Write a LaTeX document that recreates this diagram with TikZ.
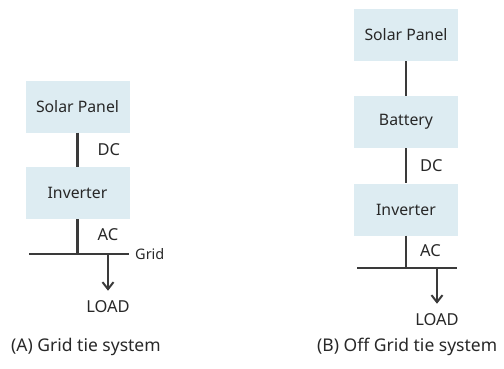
\documentclass[tikz,border=0pt]{standalone}
\usepackage{fontspec}
\setmainfont{Noto Sans}
\usetikzlibrary{arrows.meta}
\definecolor{boxfill}{RGB}{221,236,242}
\definecolor{linec}{RGB}{58,58,58}
\definecolor{textc}{RGB}{40,40,40}
\begin{document}
\begin{tikzpicture}[x=1pt,y=-1pt,
  unit/.style={fill=boxfill,draw=none,minimum width=104pt,minimum height=52pt,inner sep=0pt,font=\fontsize{15.8}{18}\selectfont,text=textc},
  wire/.style={draw=linec,line width=2.4pt},
  lbl/.style={font=\fontsize{16.5}{19}\selectfont,text=textc,inner sep=0pt},
  captext/.style={font=\fontsize{17.5}{20}\selectfont,text=textc,inner sep=0pt,anchor=west},
  tap/.style={draw=linec,line width=2pt,-{Straight Barb[length=7pt,width=11pt,line width=2pt]}}]
\useasboundingbox (0,0) rectangle (504,368);
% (A) grid tie
\node[unit] (spA) at (77.5,106.5) {Solar Panel};
\node[unit] (invA) at (77.5,193) {Inverter};
\coordinate (busA1) at (29,254);
\coordinate (busA2) at (129,254);
\coordinate (tapA) at (108,254);
\node[lbl] (loadA) at (108,307) {LOAD};
\draw[wire] (spA.south) -- (invA.north) node[lbl,midway,anchor=west,xshift=19pt] (dcA) {DC};
\draw[wire] (invA.south) -- (invA.south |- busA1) node[lbl,midway,anchor=west,xshift=19pt,yshift=2pt] (acA) {AC};
\draw[wire] (busA1) -- (busA2) node[right=5pt,font=\fontsize{14.5}{17}\selectfont,text=textc,inner sep=0pt] (gridA) {Grid};
\draw[tap] (tapA) -- ([yshift=10pt]loadA.north);
\node[captext] (capA) at (11,347) {(A) Grid tie system};
% (B) off grid
\node[unit] (spB) at (406,35) {Solar Panel};
\node[unit] (batB) at (406,122) {Battery};
\node[unit] (invB) at (406,209.5) {Inverter};
\coordinate (busB1) at (357,268);
\coordinate (busB2) at (457,268);
\coordinate (tapB) at (437,268);
\node[lbl] (loadB) at (437,320) {LOAD};
\draw[wire] (spB.south) -- (batB.north);
\draw[wire] (batB.south) -- (invB.north) node[lbl,midway,anchor=west,xshift=13pt] (dcB) {DC};
\draw[wire] (invB.south) -- (invB.south |- busB1) node[lbl,midway,anchor=west,xshift=13pt,yshift=1pt] (acB) {AC};
\draw[wire] (busB1) -- (busB2);
\draw[tap] (tapB) -- ([yshift=10pt]loadB.north);
\node[captext] (capB) at (317,347) {(B) Off Grid tie system};
\end{tikzpicture}
\end{document}
